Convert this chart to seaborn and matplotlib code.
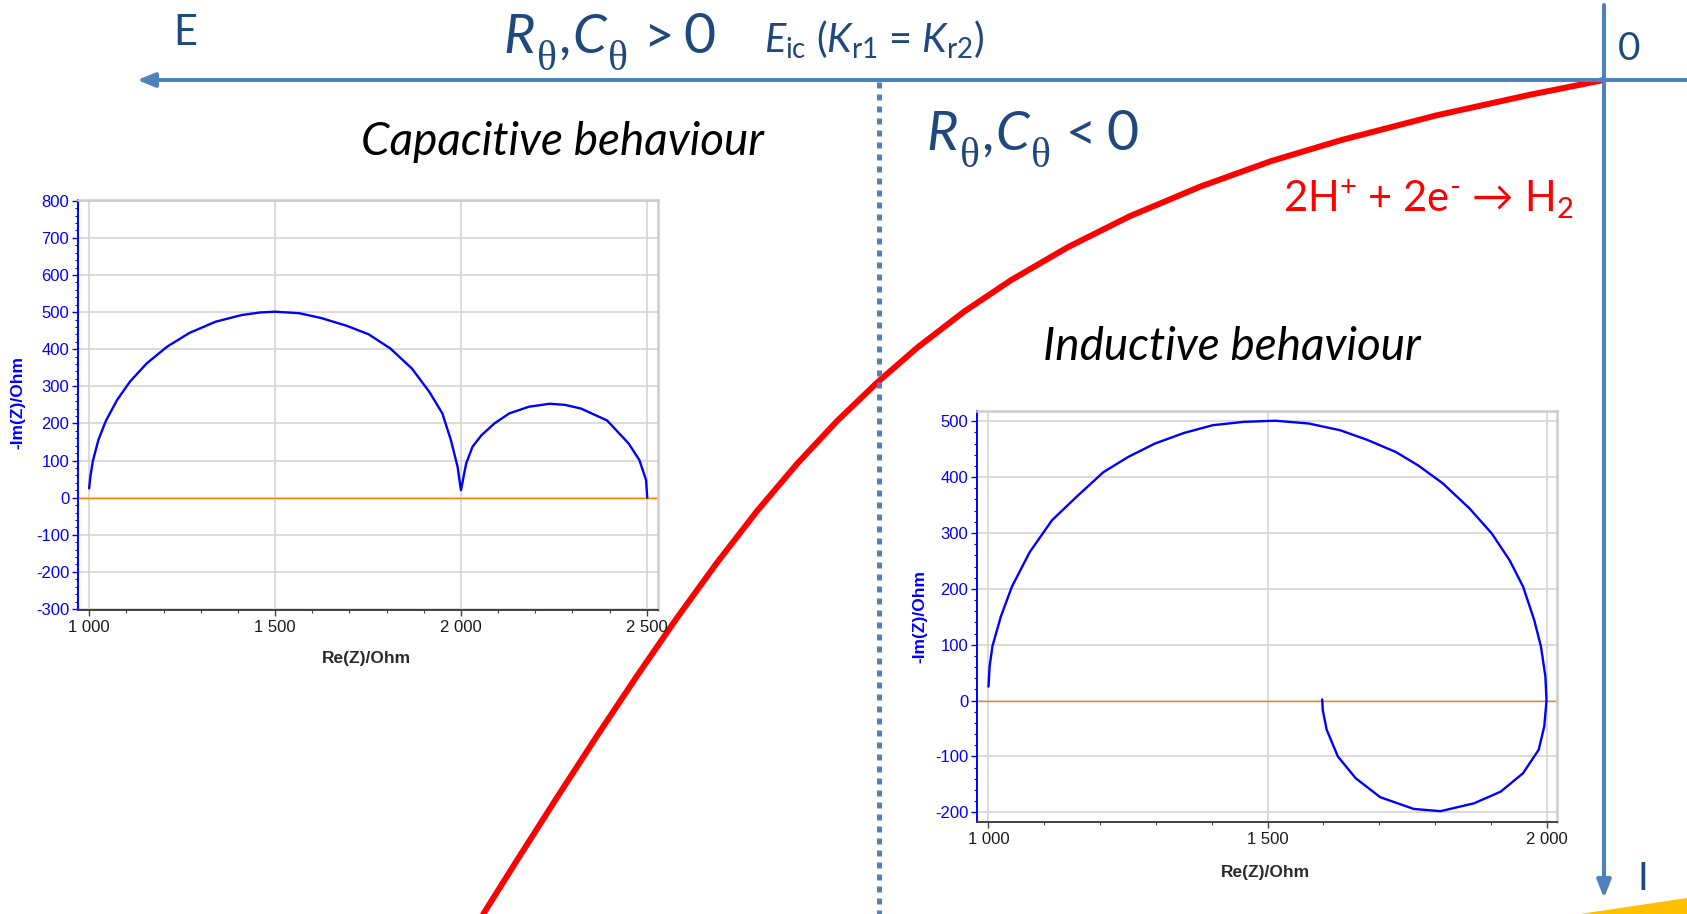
import numpy as np
import pandas as pd
import matplotlib
matplotlib.use("Agg")
import matplotlib.pyplot as plt
import seaborn as sns
from matplotlib.ticker import MultipleLocator, FuncFormatter

# ---------------- data ----------------
# Polarisation curve on the E-I sketch (canvas units: E grows to the left, cathodic I downward)
curve_e = [1603.8, 1530.7, 1436.3, 1341.9, 1271.1, 1200.3, 1129.6, 1068.2, 1011.6, 964.4,
           917.2, 877.1, 837, 797, 757, 717, 677, 637, 597, 557, 517, 483.3]
curve_i = [80, 94.6, 115.4, 139.9, 161.1, 186.6, 216.3, 247.0, 279.8, 311.4,
           347.7, 382.6, 421.1, 463.9, 511.1, 562.7, 617.9, 675.9, 735.9, 797.5, 860.3, 914]

# Capacitive Nyquist plot (two capacitive loops)
cap_re = [1000, 1003, 1010, 1025, 1045, 1075, 1110, 1155, 1210, 1270, 1340, 1410, 1460, 1500,
          1565, 1624, 1693, 1752, 1810, 1868, 1915, 1950, 1973, 1991, 1997, 2000,
          2014, 2031, 2055, 2090, 2130, 2183, 2239, 2280, 2323, 2393, 2451, 2480, 2498, 2501]
cap_im = [25, 55, 99, 156, 207, 263, 313, 362, 407, 444, 474, 492, 499, 501,
          497, 484, 463, 440, 402, 348, 285, 227, 155, 83, 40, 20,
          92, 137, 168, 200, 227, 245, 253, 250, 240, 208, 146, 101, 47, 0]

# Inductive Nyquist plot (capacitive loop followed by inductive loop)
ind_re = [1000, 1002, 1007, 1022, 1042, 1074, 1114, 1158, 1206, 1250, 1298, 1350, 1402, 1458,
          1514, 1574, 1630, 1678, 1730, 1770, 1814, 1862, 1902, 1934, 1958, 1978, 1990, 1998,
          2000, 1996, 1986, 1958, 1918, 1870, 1810, 1762, 1702, 1658, 1626, 1606, 1599, 1598]
ind_im = [25, 61, 97, 150, 204, 266, 323, 365, 409, 436, 460, 479, 493, 499,
          501, 496, 484, 467, 445, 421, 389, 344, 299, 251, 204, 144, 97, 43,
          0, -46, -88, -130, -163, -184, -198, -194, -173, -139, -100, -52, -17, 2]

corner_x = [1580, 1687, 1687]
corner_y = [914, 898, 914]

NAVY = "#1F497D"
AXBLUE = "#4F81BD"

# ---------------- style ----------------
sns.set_style("white")
plt.rcParams["font.family"] = ["Lato", "DejaVu Sans"]
plt.rcParams["mathtext.fontset"] = "custom"
plt.rcParams["mathtext.rm"] = "Lato"
plt.rcParams["mathtext.it"] = "Lato:italic"
plt.rcParams["mathtext.bf"] = "Lato:bold"
plt.rcParams["mathtext.sf"] = "Liberation Serif"
plt.rcParams["mathtext.fallback"] = "stix"

W, H = 1687, 914
fig = plt.figure(figsize=(W / 100, H / 100), dpi=100)
fig.patch.set_facecolor("white")

ax = fig.add_axes([0, 0, 1, 1])
ax.set_axis_off()

# red polarisation curve
sns.lineplot(x=curve_e, y=curve_i, sort=False, estimator=None, color="#FF0000",
             lw=4.3, ax=ax, zorder=3)
ax.lines[-1].set_solid_joinstyle("round")
ax.fill(corner_x, corner_y, color="#FFC000", lw=0, zorder=2)
ax.set_xlim(0, W)
ax.set_ylim(H, 0)

# axes arrows
arrow_kw = dict(arrowstyle="-|>,head_length=1.05,head_width=0.42", color=AXBLUE, lw=2.9,
                shrinkA=0, shrinkB=0, mutation_scale=10)
ax.annotate("", xy=(137, 80), xytext=(W, 80), arrowprops=arrow_kw, zorder=4)
ax.annotate("", xy=(1604, 898), xytext=(1604, 5), arrowprops=arrow_kw, zorder=4)

# dotted vertical line at E_ic
ax.plot([879, 879], [82, H], color=AXBLUE, lw=3.6, linestyle=(0, (1.2, 1.2)),
        dash_capstyle="butt", zorder=5)

# texts
ax.text(173, 45, "E", fontsize=30, color=NAVY, va="baseline", ha="left")
ax.text(1618, 60, "0", fontsize=28, color=NAVY, va="baseline", ha="left")
ax.text(1643, 890, "I", fontsize=28, color=NAVY, va="baseline", ha="center")


def r_c_label(x0, base, sign):
    """R_theta, C_theta  >/< 0 built from pieces (x0 = centre of the R glyph)."""
    kw = dict(color=NAVY, va="baseline", ha="center")
    ax.text(x0, base, "R", fontsize=39, style="italic", **kw)
    ax.text(x0 + 27.5, base + 17, "\u03b8", fontsize=30, family="Liberation Serif", **kw)
    ax.text(x0 + 45, base, ",", fontsize=39, **kw)
    ax.text(x0 + 70.5, base, "C", fontsize=39, style="italic", **kw)
    ax.text(x0 + 98.5, base + 17, "\u03b8", fontsize=30, family="Liberation Serif", **kw)
    ax.text(x0 + 139, base, sign, fontsize=38, **kw)
    ax.text(x0 + 180, base, "0", fontsize=40, **kw)


r_c_label(519, 53, ">")
r_c_label(942, 150, "<")

ax.text(764, 53, r"$E_{\mathrm{ic}}$ ($K_{\mathrm{r1}}$ = $K_{\mathrm{r2}}$)", fontsize=28.5,
        color=NAVY, va="baseline", ha="left")
ax.text(563, 155, "Capacitive behaviour", fontsize=33, style="italic", color="black",
        va="baseline", ha="center")
ax.text(1232, 360, "Inductive behaviour", fontsize=33, style="italic", color="black",
        va="baseline", ha="center")
ax.text(1283, 212, "2H$^{+}$ + 2e$^{\u2010}$ \u2192 H$_{2}$", fontsize=30, color="#FF0000",
        va="baseline", ha="left")


# ---------------- insets ----------------
def fmt_thousands(v, _):
    return f"{int(round(v)):,}".replace(",", " ")


def fmt_plain(v, _):
    return f"{int(round(v))}"


def make_inset(rect, re, im, xlim, ylim, xlab_pos, ylab_pos):
    a = fig.add_axes(rect)
    a.set_facecolor("white")
    a.axhline(0, color="#FF8000", lw=1.0, zorder=2)
    sns.lineplot(x=re, y=im, sort=False, estimator=None, color="#0000FF", lw=1.7,
                 ax=a, zorder=3)
    a.set_xlim(*xlim)
    a.set_ylim(*ylim)
    a.set_xlabel("")
    a.set_ylabel("")
    a.xaxis.set_major_locator(MultipleLocator(500))
    a.xaxis.set_minor_locator(MultipleLocator(100))
    a.yaxis.set_major_locator(MultipleLocator(100))
    a.yaxis.set_minor_locator(MultipleLocator(20))
    a.xaxis.set_major_formatter(FuncFormatter(fmt_thousands))
    a.yaxis.set_major_formatter(FuncFormatter(fmt_plain))
    a.grid(True, which="major", color="#D4D4D4", lw=1.2)
    a.set_axisbelow(True)
    for s in ("top", "right"):
        a.spines[s].set_color("#CCCCCC")
        a.spines[s].set_linewidth(1.8)
    a.spines["left"].set_color("#0000FF")
    a.spines["left"].set_linewidth(1.4)
    a.spines["bottom"].set_color("#404040")
    a.spines["bottom"].set_linewidth(1.4)
    a.tick_params(axis="y", which="both", left=True, direction="out", colors="#0000FF",
                  labelsize=12)
    a.tick_params(axis="y", which="major", length=4.3, width=1.0, pad=2)
    a.tick_params(axis="y", which="minor", length=2.2, width=0.8)
    a.tick_params(axis="x", which="both", bottom=True, direction="out", colors="#404040",
                  labelcolor="#1A1A1A", labelsize=12)
    a.tick_params(axis="x", which="major", length=4.0, width=1.0, pad=3)
    a.tick_params(axis="x", which="minor", length=2.5, width=0.8)
    for lab in a.get_xticklabels() + a.get_yticklabels():
        lab.set_family("Liberation Sans")
    a.text(xlab_pos[0], xlab_pos[1], "Re(Z)/Ohm", transform=a.transAxes, ha="center",
           va="center", fontsize=12.5, fontweight="bold", color="#2A2A2A",
           family="Liberation Sans")
    a.text(ylab_pos[0], ylab_pos[1], "-Im(Z)/Ohm", transform=a.transAxes, ha="center",
           va="center", rotation=90, fontsize=12.5, fontweight="bold", color="#0000FF",
           family="Liberation Sans")
    return a


make_inset([78 / W, 1 - 610 / H, 580 / W, 410 / H], cap_re, cap_im,
           (970, 2530), (-302.7, 802), (0.498, -0.1195), (-0.104, 0.505))
make_inset([977 / W, 1 - 822 / H, 580 / W, 411 / H], ind_re, ind_im,
           (979.4, 2018.8), (-217.4, 518.4), (0.498, -0.1217), (-0.098, 0.499))

fig.savefig("out.png", dpi=100, facecolor="white")
